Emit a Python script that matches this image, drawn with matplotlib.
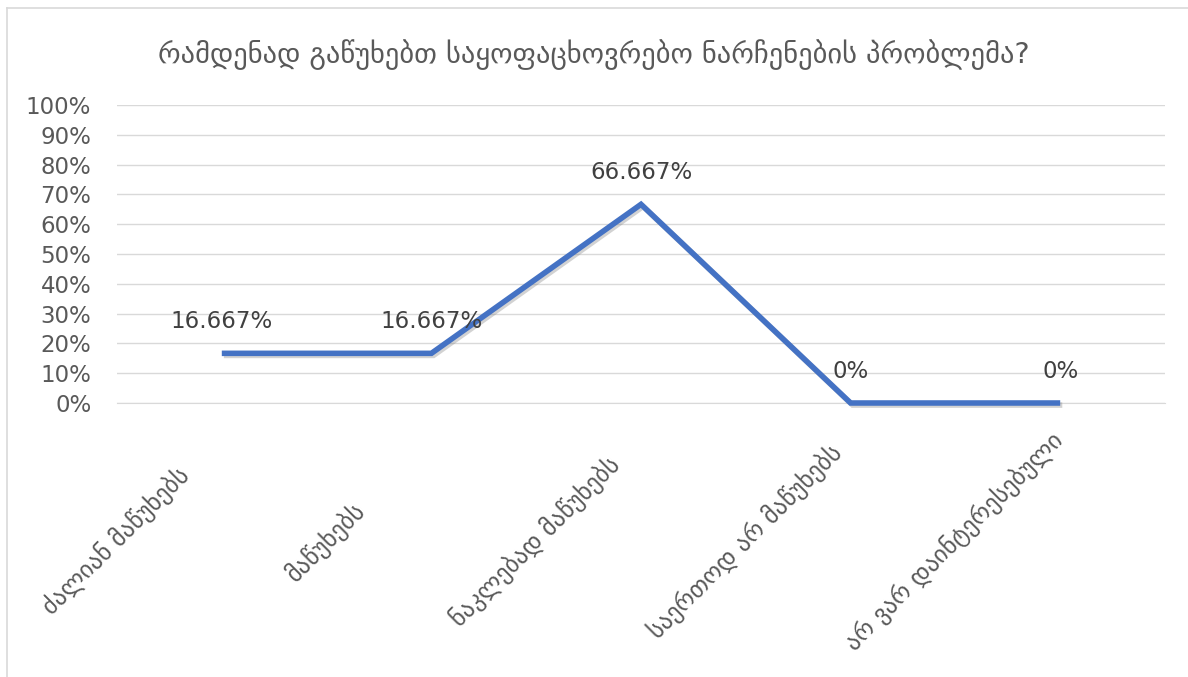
import matplotlib
matplotlib.use("Agg")
import matplotlib.pyplot as plt
from matplotlib.ticker import FuncFormatter, MultipleLocator
from matplotlib.lines import Line2D
from matplotlib.transforms import ScaledTranslation
import matplotlib.patheffects as pe

title = "რამდენად გაწუხებთ საყოფაცხოვრებო ნარჩენების პრობლემა?"
categories = ["ძალიან მაწუხებს", "მაწუხებს", "ნაკლებად მაწუხებს",
              "საერთოდ არ მაწუხებს", "არ ვარ დაინტერესებული"]
values = [16.667, 16.667, 66.667, 0, 0]
value_labels = ["16.667%", "16.667%", "66.667%", "0%", "0%"]

W, H = 1188, 677
plt.rcParams['font.family'] = ['DejaVu Sans']
fig = plt.figure(figsize=(W/100, H/100), dpi=100)
ax = fig.add_axes([117/W, 1-403/H, (1165-117)/W, (403-105)/H])

x = list(range(len(categories)))
ax.plot(x, values, color="#4472C4", linewidth=4.0, solid_joinstyle='miter',
        solid_capstyle='butt', zorder=3, clip_on=False,
        path_effects=[pe.SimpleLineShadow(offset=(1.5, -1.5), shadow_color="#7F7F7F", alpha=0.35),
                      pe.Normal()])
for xi, v, lab in zip(x, values, value_labels):
    ax.annotate(lab, (xi, v), xytext=(0, 23), textcoords="offset points",
                ha="center", va="center", fontsize=16.5, color="#404040")

ax.set_xlim(-0.5, len(categories) - 0.5)
ax.set_ylim(0, 100)
ax.yaxis.set_major_locator(MultipleLocator(10))
ax.yaxis.set_major_formatter(FuncFormatter(lambda v, p: f"{int(round(v))}%"))
ax.grid(axis="y", color="#D9D9D9", linewidth=1)
ax.set_axisbelow(True)
for s in ["top", "right", "left"]:
    ax.spines[s].set_visible(False)
ax.spines["bottom"].set_color("#D9D9D9")
ax.tick_params(axis="y", length=0, labelsize=16.5, labelcolor="#595959", pad=18.5)
ax.tick_params(axis="x", length=0, labelsize=17.5, labelcolor="#595959", pad=0)
ax.set_xticks(x)
ax.set_xticklabels(categories, rotation=45, ha="center", va="center", rotation_mode="anchor")
offset = ScaledTranslation(-106/100, -(541-403)/100, fig.dpi_scale_trans)
for lab in ax.get_xticklabels():
    lab.set_transform(lab.get_transform() + offset)

fig.text(0.5, 1-55/H, title, ha="center", va="center", fontsize=20.5, color="#595959")

fig.add_artist(Line2D([7/W, 1], [1-8/H, 1-8/H], transform=fig.transFigure, color="#D9D9D9", lw=1.2))
fig.add_artist(Line2D([7/W, 7/W], [0, 1-8/H], transform=fig.transFigure, color="#D9D9D9", lw=1.2))
fig.savefig("out.png", dpi=100)
